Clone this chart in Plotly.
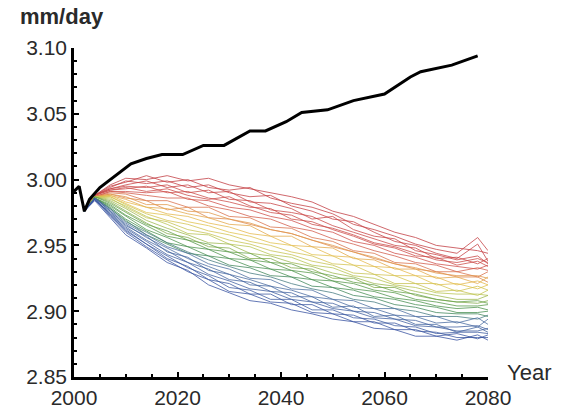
import plotly.graph_objects as go
from plotly.colors import sample_colorscale

# ---------------- data ----------------
# Black reference curve
black_years = [2000, 2001, 2002, 2003, 2005, 2008, 2011, 2014, 2017, 2021, 2025, 2029,
               2034, 2037, 2041, 2044, 2049, 2054, 2060, 2065, 2067, 2073, 2078]
black_vals = [2.991, 2.995, 2.976, 2.985, 2.994, 3.003, 3.012, 3.016, 3.019, 3.019, 3.026, 3.026,
              3.037, 3.037, 3.044, 3.051, 3.053, 3.060, 3.065, 3.078, 3.082, 3.087, 3.094]

# Shared start of the ensemble members
start_years = [2000, 2001, 2002]
start_vals = [2.991, 2.995, 2.976]

# Ensemble member years
member_years = [2004, 2007, 2010, 2014, 2018, 2022, 2026, 2030, 2034, 2038, 2042,
                2046, 2050, 2054, 2058, 2062, 2066, 2070, 2074, 2078, 2080]

# Ensemble members, ordered from red (top) to blue (bottom)
r1 = [2.988, 2.996, 3.001, 3.000, 3.003, 2.999, 3.001, 2.996, 2.993, 2.990, 2.987, 2.983, 2.976, 2.972, 2.966, 2.960, 2.956, 2.950, 2.948, 2.946, 2.944]
r2 = [2.988, 2.995, 2.998, 3.003, 2.998, 3.000, 2.994, 2.992, 2.994, 2.986, 2.982, 2.979, 2.974, 2.966, 2.962, 2.957, 2.951, 2.947, 2.944, 2.956, 2.946]
r3 = [2.988, 2.994, 2.999, 2.997, 2.999, 2.994, 2.996, 2.990, 2.987, 2.988, 2.980, 2.976, 2.970, 2.968, 2.960, 2.953, 2.950, 2.944, 2.940, 2.951, 2.938]
r4 = [2.988, 2.993, 2.996, 2.999, 2.994, 2.996, 2.990, 2.991, 2.983, 2.982, 2.978, 2.970, 2.972, 2.962, 2.957, 2.955, 2.946, 2.943, 2.939, 2.942, 2.936]
r5 = [2.988, 2.993, 2.995, 2.994, 2.996, 2.990, 2.992, 2.985, 2.984, 2.977, 2.975, 2.972, 2.965, 2.960, 2.955, 2.950, 2.948, 2.940, 2.941, 2.936, 2.940]
r9 = [2.988, 2.992, 2.994, 2.991, 2.993, 2.988, 2.985, 2.987, 2.980, 2.975, 2.973, 2.966, 2.963, 2.958, 2.952, 2.949, 2.944, 2.939, 2.937, 2.940, 2.937]
r6 = [2.988, 2.992, 2.993, 2.995, 2.990, 2.991, 2.986, 2.983, 2.979, 2.978, 2.970, 2.968, 2.962, 2.957, 2.951, 2.948, 2.942, 2.941, 2.935, 2.938, 2.934]
r7 = [2.987, 2.991, 2.991, 2.990, 2.991, 2.985, 2.984, 2.979, 2.977, 2.972, 2.969, 2.963, 2.960, 2.953, 2.950, 2.944, 2.941, 2.936, 2.934, 2.932, 2.935]
r8 = [2.987, 2.991, 2.990, 2.988, 2.986, 2.986, 2.980, 2.977, 2.972, 2.970, 2.964, 2.961, 2.955, 2.951, 2.946, 2.942, 2.937, 2.935, 2.930, 2.933, 2.931]
o1 = [2.987, 2.990, 2.989, 2.984, 2.984, 2.979, 2.979, 2.972, 2.971, 2.964, 2.963, 2.956, 2.953, 2.946, 2.944, 2.937, 2.936, 2.930, 2.930, 2.926, 2.930]
o8 = [2.987, 2.989, 2.986, 2.984, 2.977, 2.979, 2.971, 2.970, 2.966, 2.962, 2.959, 2.954, 2.949, 2.945, 2.940, 2.936, 2.932, 2.930, 2.926, 2.926, 2.922]
o2 = [2.987, 2.989, 2.987, 2.981, 2.981, 2.976, 2.975, 2.970, 2.967, 2.962, 2.959, 2.954, 2.950, 2.945, 2.941, 2.936, 2.933, 2.929, 2.927, 2.927, 2.925]
o3 = [2.987, 2.988, 2.985, 2.979, 2.978, 2.974, 2.971, 2.966, 2.965, 2.957, 2.957, 2.949, 2.948, 2.940, 2.939, 2.932, 2.932, 2.925, 2.926, 2.921, 2.926]
o4 = [2.987, 2.988, 2.983, 2.979, 2.974, 2.972, 2.967, 2.964, 2.959, 2.957, 2.950, 2.949, 2.942, 2.941, 2.934, 2.933, 2.927, 2.926, 2.920, 2.923, 2.920]
o5 = [2.987, 2.987, 2.982, 2.975, 2.973, 2.968, 2.965, 2.960, 2.957, 2.952, 2.950, 2.943, 2.942, 2.935, 2.934, 2.927, 2.927, 2.920, 2.921, 2.917, 2.920]
o6 = [2.987, 2.987, 2.981, 2.974, 2.969, 2.966, 2.961, 2.958, 2.953, 2.950, 2.945, 2.942, 2.936, 2.935, 2.928, 2.927, 2.921, 2.921, 2.915, 2.919, 2.916]
o7 = [2.987, 2.986, 2.979, 2.971, 2.968, 2.962, 2.959, 2.954, 2.951, 2.946, 2.943, 2.938, 2.935, 2.929, 2.928, 2.921, 2.921, 2.915, 2.916, 2.912, 2.916]
g1 = [2.987, 2.985, 2.980, 2.972, 2.966, 2.959, 2.958, 2.951, 2.949, 2.943, 2.941, 2.935, 2.933, 2.927, 2.925, 2.920, 2.918, 2.914, 2.913, 2.913, 2.912]
g2 = [2.987, 2.984, 2.978, 2.969, 2.963, 2.958, 2.952, 2.951, 2.944, 2.942, 2.937, 2.934, 2.929, 2.926, 2.921, 2.919, 2.915, 2.912, 2.909, 2.909, 2.912]
g8 = [2.987, 2.983, 2.976, 2.967, 2.959, 2.956, 2.949, 2.948, 2.940, 2.940, 2.933, 2.932, 2.925, 2.925, 2.918, 2.918, 2.912, 2.909, 2.907, 2.906, 2.908]
g3 = [2.987, 2.982, 2.975, 2.966, 2.961, 2.954, 2.951, 2.945, 2.944, 2.937, 2.936, 2.930, 2.927, 2.922, 2.920, 2.915, 2.913, 2.909, 2.907, 2.908, 2.906]
g4 = [2.986, 2.981, 2.973, 2.965, 2.957, 2.954, 2.947, 2.945, 2.939, 2.937, 2.931, 2.929, 2.923, 2.921, 2.916, 2.914, 2.909, 2.907, 2.904, 2.904, 2.905]
g5 = [2.986, 2.980, 2.972, 2.962, 2.956, 2.949, 2.947, 2.940, 2.939, 2.932, 2.931, 2.924, 2.923, 2.917, 2.915, 2.910, 2.908, 2.904, 2.902, 2.903, 2.901]
g6 = [2.986, 2.979, 2.970, 2.961, 2.952, 2.949, 2.942, 2.940, 2.934, 2.932, 2.926, 2.924, 2.918, 2.916, 2.911, 2.909, 2.905, 2.903, 2.899, 2.899, 2.900]
g7 = [2.986, 2.978, 2.969, 2.958, 2.951, 2.944, 2.942, 2.935, 2.933, 2.927, 2.926, 2.919, 2.918, 2.912, 2.910, 2.905, 2.903, 2.899, 2.898, 2.898, 2.896]
b1 = [2.986, 2.978, 2.968, 2.960, 2.952, 2.945, 2.939, 2.934, 2.929, 2.926, 2.921, 2.917, 2.914, 2.909, 2.907, 2.902, 2.900, 2.896, 2.896, 2.894, 2.897]
b2 = [2.986, 2.977, 2.967, 2.958, 2.949, 2.944, 2.936, 2.932, 2.925, 2.924, 2.917, 2.916, 2.909, 2.908, 2.902, 2.902, 2.896, 2.896, 2.891, 2.895, 2.890]
b3 = [2.986, 2.976, 2.966, 2.956, 2.948, 2.940, 2.934, 2.928, 2.924, 2.919, 2.916, 2.911, 2.909, 2.903, 2.902, 2.897, 2.896, 2.891, 2.892, 2.888, 2.894]
b9 = [2.986, 2.976, 2.965, 2.957, 2.945, 2.941, 2.931, 2.928, 2.920, 2.919, 2.911, 2.911, 2.903, 2.904, 2.896, 2.897, 2.890, 2.890, 2.884, 2.888, 2.884]
b4 = [2.985, 2.975, 2.964, 2.954, 2.946, 2.937, 2.932, 2.924, 2.922, 2.915, 2.914, 2.907, 2.906, 2.900, 2.899, 2.894, 2.893, 2.888, 2.888, 2.889, 2.886]
b5 = [2.985, 2.974, 2.963, 2.953, 2.943, 2.937, 2.928, 2.923, 2.917, 2.915, 2.909, 2.907, 2.902, 2.900, 2.895, 2.894, 2.889, 2.888, 2.885, 2.885, 2.887]
b6 = [2.985, 2.974, 2.962, 2.951, 2.942, 2.933, 2.927, 2.918, 2.916, 2.909, 2.909, 2.901, 2.901, 2.895, 2.894, 2.889, 2.888, 2.883, 2.884, 2.884, 2.883]
b10 = [2.985, 2.973, 2.961, 2.951, 2.940, 2.934, 2.924, 2.921, 2.913, 2.913, 2.905, 2.905, 2.898, 2.897, 2.891, 2.891, 2.885, 2.884, 2.880, 2.880, 2.880]
b7 = [2.985, 2.972, 2.960, 2.949, 2.939, 2.930, 2.924, 2.915, 2.913, 2.907, 2.906, 2.899, 2.898, 2.892, 2.892, 2.886, 2.886, 2.881, 2.883, 2.879, 2.882]
b8 = [2.984, 2.971, 2.958, 2.948, 2.937, 2.931, 2.920, 2.914, 2.908, 2.906, 2.901, 2.898, 2.894, 2.892, 2.887, 2.886, 2.881, 2.881, 2.878, 2.882, 2.878]

members = [r1, r2, r3, r4, r5, r9, r6, r7, r8,
           o1, o8, o2, o3, o4, o5, o6, o7,
           g1, g2, g8, g3, g4, g5, g6, g7,
           b1, b2, b3, b9, b4, b5, b6, b10, b7, b8]

x_ticks = [2000, 2020, 2040, 2060, 2080]
y_ticks = [2.85, 2.90, 2.95, 3.00, 3.05, 3.10]

# ---------------- styling ----------------
rainbow = [[0.0, "#c23a40"], [0.22, "#d0504a"], [0.30, "#e08a48"], [0.40, "#e6c24c"],
           [0.50, "#b8c450"], [0.60, "#5c9c48"], [0.70, "#3f8a52"], [0.76, "#4a6ea0"],
           [1.0, "#3550a0"]]
n = len(members)
colors = sample_colorscale(rainbow, [i / (n - 1) for i in range(n)])

FONT = "Liberation Sans, Arial, Helvetica, sans-serif"

fig = go.Figure()
for vals, col in zip(members, colors):
    fig.add_trace(go.Scatter(
        x=start_years + member_years, y=start_vals + vals,
        mode="lines", line=dict(color=col, width=0.9), opacity=0.85,
        hoverinfo="skip", showlegend=False))

fig.add_trace(go.Scatter(x=black_years, y=black_vals, mode="lines",
                         line=dict(color="black", width=3), showlegend=False))

axis_common = dict(
    showgrid=False, zeroline=False, showline=True, linecolor="black", linewidth=2.5,
    ticks="inside", tickcolor="black", tickwidth=2, ticklen=5,
    tickfont=dict(family=FONT, size=21, color="#2a2a2a"),
    automargin=False,
)

fig.update_xaxes(range=[2000, 2080], tickvals=x_ticks,
                 minor=dict(dtick=5, tick0=2000, ticks="inside", ticklen=3,
                            tickwidth=2, tickcolor="black"),
                 **axis_common)
fig.update_yaxes(range=[2.85, 3.10], tickvals=y_ticks, tickformat=".2f",
                 minor=dict(dtick=0.01, tick0=2.85, ticks="inside", ticklen=3,
                            tickwidth=2, tickcolor="black"),
                 **axis_common)

fig.update_layout(
    width=569, height=410,
    margin=dict(l=74, r=81, t=48, b=33),
    plot_bgcolor="white", paper_bgcolor="white",
    font=dict(family=FONT, color="#2a2a2a"),
    annotations=[
        dict(text="<b>mm/day</b>", xref="paper", yref="paper", x=-0.135, y=1.095,
             xanchor="left", yanchor="middle", showarrow=False,
             font=dict(family=FONT, size=22, color="#2a2a2a")),
        dict(text="Year", xref="paper", yref="paper", x=1.04, y=0.015,
             xanchor="left", yanchor="middle", showarrow=False,
             font=dict(family=FONT, size=22, color="#2a2a2a")),
    ],
)

fig.write_html("out.html", config={"displayModeBar": False},
               post_script="document.body.style.margin='0';document.body.style.overflow='hidden';")
